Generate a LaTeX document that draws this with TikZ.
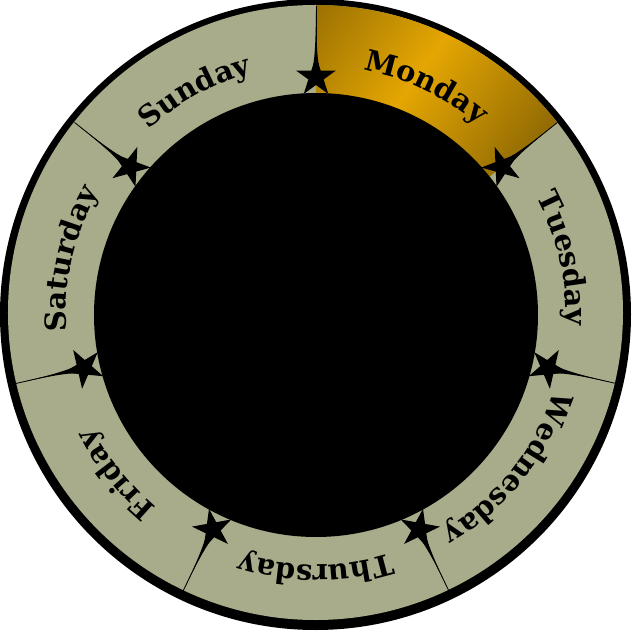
\documentclass[tikz,border=0pt]{standalone}
\usepackage{fontspec}
\newfontfamily\dayfont{DejaVu Serif}
\usetikzlibrary{decorations.text}
\definecolor{sage}{RGB}{168,172,138}
\definecolor{gdark}{RGB}{132,97,4}
\definecolor{gbright}{RGB}{228,166,2}
\pgfdeclarehorizontalshading{goldband}{100bp}{color(0bp)=(gdark); color(30bp)=(gdark); color(50bp)=(gbright); color(70bp)=(gdark); color(100bp)=(gdark)}
\newcommand\dayfmt{\dayfont\bfseries\fontsize{29}{34}\selectfont}
\newcommand\daylabel[2]{%
  \path[decorate, decoration={text along path, text={|\dayfmt|#2}, text align=center}]
    ({#1+25.714}:250) arc[start angle={#1+25.714}, end angle={#1-25.714}, radius=250];}
\newcommand\sepmark[1]{%
  \begin{scope}[rotate=#1-90]
    \draw[sepline] (0,236) -- (0,309);
    \fill (-4,244) .. controls (-1,256) and (-0.4,274) .. (0,302)
          .. controls (0.4,274) and (1,256) .. (4,244) -- cycle;
    \begin{scope}[shift={(0,238)}]
      \fill (90:21) -- (126:8) -- (162:21) -- (198:8) -- (234:21) -- (270:8)
            -- (306:21) -- (342:8) -- (18:21) -- (54:8) -- cycle;
    \end{scope}
  \end{scope}}
\tikzset{sepline/.style={line width=0.8pt, draw=black}}
\begin{document}
\begin{tikzpicture}[x=1pt,y=1pt]
  \useasboundingbox (-316,-317) rectangle (316,315);
  % outer black border
  \fill[black] (-0.5,0.5) circle (315.5);
  % light ring
  \fill[sage] (-0.5,2.5) circle (307.5);
  % Monday highlighted sector
  \begin{scope}
    \clip (-0.5,2.5) circle (307.5);
    \clip (0,0) -- (90:420) -- (64.286:420) -- (38.571:420) -- cycle;
    \begin{scope}[transform canvas={shift={(90,224)}, rotate=-36}]
      \shade[shading=goldband] (-200,-400) rectangle (200,400);
    \end{scope}
  \end{scope}
  % separators with stars
  \sepmark{90}
  \sepmark{38.571}
  \sepmark{-12.857}
  \sepmark{-64.286}
  \sepmark{-115.714}
  \sepmark{-167.143}
  \sepmark{141.429}
  % inner black disk
  \fill[black] (0,0) circle (222);
  % day labels
  \daylabel{64.286}{Monday}
  \daylabel{12.857}{Tuesday}
  \daylabel{-38.571}{Wednesday}
  \daylabel{-90}{Thursday}
  \daylabel{-141.429}{Friday}
  \daylabel{-192.857}{Saturday}
  \daylabel{118.5}{Sunday}
\end{tikzpicture}
\end{document}
